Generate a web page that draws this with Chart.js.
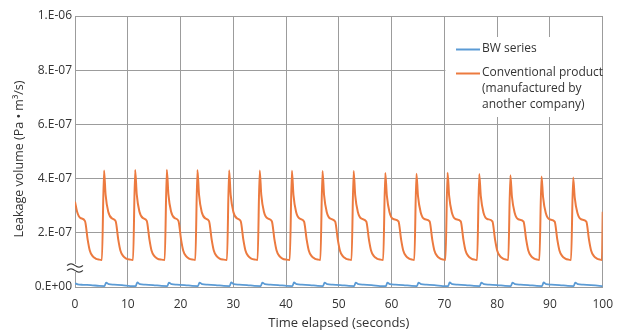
<!DOCTYPE html>
<html>
<head>
<meta charset="utf-8">
<script src="https://cdn.jsdelivr.net/npm/chart.js@4/dist/chart.umd.min.js"></script>
<style>
  html, body { margin: 0; padding: 0; background: #ffffff; }
  #wrap { width: 623px; height: 331px; position: relative; }
</style>
</head>
<body>
<div id="wrap"><canvas id="c" width="623" height="331"></canvas></div>
<script>
// ---- data ----
const xTicks = [0, 10, 20, 30, 40, 50, 60, 70, 80, 90, 100];
const yTickValues = [0, 2e-7, 4e-7, 6e-7, 8e-7, 1e-6];
const yTickLabels = ['0.E+00', '2.E-07', '4.E-07', '6.E-07', '8.E-07', '1.E-06'];
const xTitle = 'Time elapsed (seconds)';
const yTitle = 'Leakage volume (Pa • m³/s)';
const seriesNames = ['BW series', 'Conventional product (manufactured by another company)'];
const legendLines = [['BW series'], ['Conventional product', '(manufactured by', 'another company)']];
const seriesColors = ['#5b9bd5', '#ec7a3f'];

// Conventional product (orange), time in seconds
const convTime = [
  0, 0.4, 1.0, 1.9, 2.4, 2.8, 3.3, 3.9, 4.6,
  5.1, 5.5, 5.8, 6.3, 7.0, 7.7, 8.2, 8.6, 9.1, 9.7, 10.5,
  11.0, 11.4, 11.7, 12.2, 12.9, 13.6, 14.1, 14.5, 15.0, 15.6, 16.4,
  17.0, 17.4, 17.7, 18.2, 18.9, 19.6, 20.1, 20.5, 21.0, 21.6, 22.4,
  22.8, 23.2, 23.5, 24.0, 24.7, 25.4, 25.9, 26.3, 26.8, 27.4, 28.2,
  28.8, 29.2, 29.5, 30.0, 30.7, 31.4, 31.9, 32.3, 32.8, 33.4, 34.2,
  34.6, 35.0, 35.3, 35.8, 36.5, 37.3, 37.8, 38.2, 38.7, 39.3, 40.1,
  40.7, 41.1, 41.4, 41.9, 42.6, 43.4, 43.9, 44.3, 44.8, 45.4, 46.1,
  46.5, 46.9, 47.2, 47.7, 48.4, 49.3, 49.8, 50.2, 50.7, 51.3, 52.0,
  52.4, 52.8, 53.1, 53.6, 54.3, 55.2, 55.7, 56.1, 56.6, 57.2, 57.9,
  58.4, 58.8, 59.1, 59.6, 60.3, 61.3, 61.8, 62.2, 62.7, 63.3, 63.9,
  64.3, 64.7, 65.0, 65.5, 66.2, 67.2, 67.7, 68.1, 68.6, 69.2, 69.8,
  70.2, 70.6, 70.9, 71.4, 72.1, 73.1, 73.6, 74.0, 74.5, 75.1, 75.7,
  76.2, 76.6, 76.9, 77.4, 78.1, 79.1, 79.6, 80.0, 80.5, 81.1, 81.7,
  82.1, 82.5, 82.8, 83.3, 84.0, 85.0, 85.5, 85.9, 86.4, 87.0, 87.6,
  88.0, 88.4, 88.7, 89.2, 89.9, 90.9, 91.4, 91.8, 92.3, 92.9, 93.5,
  94.0, 94.4, 94.7, 95.2, 95.9, 96.9, 97.4, 97.8, 98.3, 98.9, 99.5, 99.85, 100
];
const convLeak = [
  3.15e-7, 2.78e-7, 2.55e-7, 2.43e-7, 1.75e-7, 1.35e-7, 1.15e-7, 1.05e-7, 1.01e-7,
  1.00e-7, 4.30e-7, 3.40e-7, 2.78e-7, 2.53e-7, 2.43e-7, 1.75e-7, 1.35e-7, 1.15e-7, 1.05e-7, 1.01e-7,
  1.00e-7, 4.32e-7, 3.42e-7, 2.79e-7, 2.54e-7, 2.44e-7, 1.76e-7, 1.35e-7, 1.15e-7, 1.05e-7, 1.01e-7,
  1.00e-7, 4.33e-7, 3.42e-7, 2.79e-7, 2.54e-7, 2.44e-7, 1.75e-7, 1.35e-7, 1.15e-7, 1.05e-7, 1.01e-7,
  1.00e-7, 4.32e-7, 3.41e-7, 2.78e-7, 2.53e-7, 2.43e-7, 1.75e-7, 1.35e-7, 1.15e-7, 1.05e-7, 1.01e-7,
  1.00e-7, 4.31e-7, 3.40e-7, 2.78e-7, 2.53e-7, 2.43e-7, 1.75e-7, 1.35e-7, 1.15e-7, 1.05e-7, 1.01e-7,
  1.00e-7, 4.30e-7, 3.40e-7, 2.78e-7, 2.53e-7, 2.43e-7, 1.75e-7, 1.35e-7, 1.15e-7, 1.05e-7, 1.01e-7,
  1.00e-7, 4.29e-7, 3.39e-7, 2.77e-7, 2.52e-7, 2.42e-7, 1.75e-7, 1.35e-7, 1.15e-7, 1.05e-7, 1.01e-7,
  1.00e-7, 4.28e-7, 3.39e-7, 2.77e-7, 2.52e-7, 2.42e-7, 1.75e-7, 1.35e-7, 1.15e-7, 1.05e-7, 1.01e-7,
  1.00e-7, 4.28e-7, 3.38e-7, 2.77e-7, 2.52e-7, 2.42e-7, 1.75e-7, 1.35e-7, 1.15e-7, 1.05e-7, 1.01e-7,
  1.00e-7, 4.21e-7, 3.36e-7, 2.76e-7, 2.51e-7, 2.42e-7, 1.75e-7, 1.35e-7, 1.15e-7, 1.05e-7, 1.01e-7,
  1.00e-7, 4.18e-7, 3.35e-7, 2.76e-7, 2.51e-7, 2.42e-7, 1.75e-7, 1.35e-7, 1.15e-7, 1.05e-7, 1.01e-7,
  1.00e-7, 4.22e-7, 3.36e-7, 2.76e-7, 2.51e-7, 2.42e-7, 1.75e-7, 1.35e-7, 1.15e-7, 1.05e-7, 1.01e-7,
  1.00e-7, 4.17e-7, 3.35e-7, 2.75e-7, 2.51e-7, 2.42e-7, 1.75e-7, 1.35e-7, 1.15e-7, 1.05e-7, 1.01e-7,
  1.00e-7, 4.12e-7, 3.33e-7, 2.75e-7, 2.50e-7, 2.41e-7, 1.75e-7, 1.35e-7, 1.15e-7, 1.05e-7, 1.01e-7,
  1.00e-7, 4.08e-7, 3.32e-7, 2.74e-7, 2.50e-7, 2.41e-7, 1.75e-7, 1.35e-7, 1.15e-7, 1.05e-7, 1.01e-7,
  1.00e-7, 4.04e-7, 3.30e-7, 2.74e-7, 2.50e-7, 2.41e-7, 1.75e-7, 1.35e-7, 1.15e-7, 1.05e-7, 1.01e-7, 1.00e-7, 2.78e-7
];

// BW series (blue), time in seconds
const bwTime = [
  0, 0.5, 1.5, 3.0, 4.6,
  5.6, 5.9, 6.4, 7.4, 8.9, 10.5,
  11.5, 11.8, 12.3, 13.3, 14.8, 16.4,
  17.5, 17.8, 18.3, 19.3, 20.8, 22.2,
  23.3, 23.6, 24.1, 25.1, 26.6, 28.2,
  29.3, 29.6, 30.1, 31.1, 32.6, 34.0,
  35.2, 35.5, 36.0, 37.0, 38.5, 40.1,
  41.2, 41.5, 42.0, 43.0, 44.5, 46.0,
  47.0, 47.3, 47.8, 48.8, 50.3, 51.9,
  52.9, 53.2, 53.7, 54.7, 56.2, 57.8,
  58.9, 59.2, 59.7, 60.7, 62.2, 63.8,
  64.8, 65.1, 65.6, 66.6, 68.1, 69.7,
  70.7, 71.0, 71.5, 72.5, 74.0, 75.6,
  76.7, 77.0, 77.5, 78.5, 80.0, 81.5,
  82.6, 82.9, 83.4, 84.4, 85.9, 87.5,
  88.5, 88.8, 89.3, 90.3, 91.8, 93.4,
  94.5, 94.8, 95.3, 96.3, 97.8, 99.4, 100
];
const bwLeak = [
  1.35e-8, 1.00e-8, 0.80e-8, 0.70e-8, 0.40e-8,
  0.35e-8, 1.65e-8, 1.05e-8, 0.85e-8, 0.72e-8, 0.35e-8,
  0.30e-8, 1.68e-8, 1.05e-8, 0.85e-8, 0.72e-8, 0.40e-8,
  0.35e-8, 1.62e-8, 1.02e-8, 0.84e-8, 0.72e-8, 0.40e-8,
  0.35e-8, 1.65e-8, 1.05e-8, 0.85e-8, 0.72e-8, 0.40e-8,
  0.35e-8, 1.70e-8, 1.05e-8, 0.85e-8, 0.72e-8, 0.40e-8,
  0.35e-8, 1.62e-8, 1.02e-8, 0.84e-8, 0.72e-8, 0.40e-8,
  0.35e-8, 1.66e-8, 1.05e-8, 0.85e-8, 0.72e-8, 0.40e-8,
  0.35e-8, 1.64e-8, 1.04e-8, 0.85e-8, 0.72e-8, 0.40e-8,
  0.35e-8, 1.62e-8, 1.03e-8, 0.84e-8, 0.72e-8, 0.35e-8,
  0.30e-8, 1.60e-8, 1.02e-8, 0.84e-8, 0.72e-8, 0.40e-8,
  0.35e-8, 1.64e-8, 1.04e-8, 0.85e-8, 0.72e-8, 0.35e-8,
  0.30e-8, 1.66e-8, 1.05e-8, 0.85e-8, 0.72e-8, 0.40e-8,
  0.35e-8, 1.62e-8, 1.03e-8, 0.84e-8, 0.72e-8, 0.40e-8,
  0.35e-8, 1.64e-8, 1.04e-8, 0.85e-8, 0.72e-8, 0.40e-8,
  0.35e-8, 1.66e-8, 1.05e-8, 0.85e-8, 0.72e-8, 0.40e-8,
  0.35e-8, 1.64e-8, 1.04e-8, 0.85e-8, 0.72e-8, 0.45e-8, 0.30e-8
];

const FONT = "'Open Sans', 'Noto Sans', sans-serif";
const TEXT = '#333333';
const GRID = '#9c9c9c';

// legend drawn inside the plot (white box), y-axis title, axis break mark
const overlayPlugin = {
  id: 'overlay',
  afterDraw(chart) {
    const ctx = chart.ctx;
    const xs = chart.scales.x;
    ctx.save();
    // legend box
    const bx = xs.getPixelForValue(70) + 1;
    const bRight = xs.getPixelForValue(100) - 1;
    ctx.fillStyle = '#ffffff';
    ctx.fillRect(bx, 37, bRight - bx, 80);
    ctx.font = '12px ' + FONT;
    ctx.textBaseline = 'middle';
    ctx.textAlign = 'left';
    const rowsY = [49, 73];
    legendLines.forEach((lines, i) => {
      const y = rowsY[i];
      ctx.strokeStyle = seriesColors[i];
      ctx.lineWidth = 2;
      ctx.beginPath();
      ctx.moveTo(456, y + 0.5);
      ctx.lineTo(480, y + 0.5);
      ctx.stroke();
      ctx.fillStyle = TEXT;
      lines.forEach((t, j) => ctx.fillText(t, 482, y + j * 16));
    });
    // y-axis title (rotated)
    ctx.save();
    ctx.translate(19, 159);
    ctx.rotate(-Math.PI / 2);
    ctx.textAlign = 'center';
    ctx.textBaseline = 'middle';
    ctx.font = '12.5px ' + FONT;
    ctx.fillStyle = TEXT;
    ctx.fillText(yTitle, 0, 0);
    ctx.restore();
    // axis break mark
    const ax = xs.left;
    const ay = 268;
    ctx.fillStyle = '#ffffff';
    ctx.fillRect(ax - 8, ay - 4, 16, 8);
    ctx.strokeStyle = '#333333';
    ctx.lineWidth = 1.1;
    [-2.5, 2.5].forEach(off => {
      ctx.beginPath();
      for (let k = 0; k <= 16; k++) {
        const px = ax - 8 + k;
        const py = ay + off - 1.6 * Math.sin((k / 16) * Math.PI * 2);
        if (k === 0) ctx.moveTo(px, py); else ctx.lineTo(px, py);
      }
      ctx.stroke();
    });
    ctx.restore();
  }
};

new Chart(document.getElementById('c'), {
  type: 'line',
  data: {
    datasets: [
      {
        label: seriesNames[0],
        data: bwTime.map((t, i) => ({ x: t, y: bwLeak[i] })),
        borderColor: seriesColors[0],
        borderWidth: 1.8,
        pointRadius: 0,
        cubicInterpolationMode: 'monotone',
        fill: false
      },
      {
        label: seriesNames[1],
        data: convTime.map((t, i) => ({ x: t, y: convLeak[i] })),
        borderColor: seriesColors[1],
        borderWidth: 2,
        pointRadius: 0,
        cubicInterpolationMode: 'monotone',
        fill: false
      }
    ]
  },
  options: {
    responsive: false,
    animation: false,
    devicePixelRatio: 1,
    layout: { padding: { top: 16, right: 20, left: 0, bottom: 0 } },
    plugins: {
      legend: { display: false },
      tooltip: { enabled: false }
    },
    scales: {
      x: {
        type: 'linear',
        min: 0, max: 100,
        afterFit(s) { s.height = 44; },
        afterBuildTicks(s) { s.ticks = xTicks.map(v => ({ value: v })); },
        grid: { color: GRID, lineWidth: 1, drawTicks: false },
        border: { color: GRID, width: 1 },
        ticks: { color: TEXT, font: { family: FONT, size: 12 }, padding: 10, maxRotation: 0 },
        title: {
          display: true, text: xTitle, color: TEXT,
          font: { family: FONT, size: 13 }, padding: { top: 2, bottom: 0 }
        }
      },
      y: {
        type: 'linear',
        min: 0, max: 1e-6,
        afterFit(s) { s.width = 75; },
        afterBuildTicks(s) { s.ticks = yTickValues.map(v => ({ value: v })); },
        grid: { color: GRID, lineWidth: 1, drawTicks: false },
        border: { color: GRID, width: 1 },
        ticks: {
          color: TEXT, font: { family: FONT, size: 12 }, padding: 3,
          callback(v, i) { return yTickLabels[i]; }
        },
        title: { display: false }
      }
    }
  },
  plugins: [overlayPlugin]
});
</script>
</body>
</html>
